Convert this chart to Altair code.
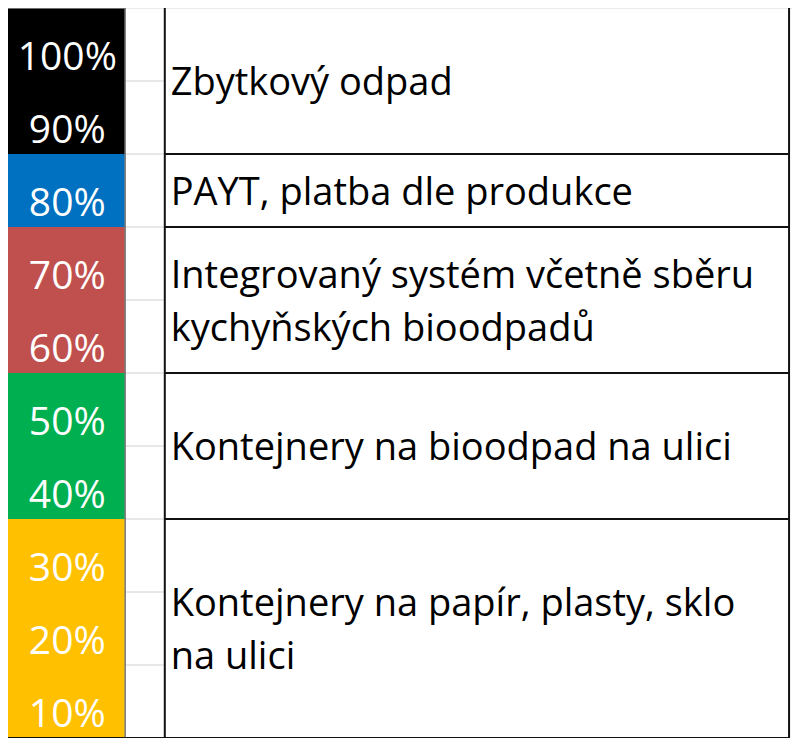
import altair as alt
import pandas as pd

# ---- data -------------------------------------------------------------
categories = [
    "Zbytkový odpad",
    "PAYT, platba dle produkce",
    "Integrovaný systém včetně sběru\nkychyňských bioodpadů",
    "Kontejnery na bioodpad na ulici",
    "Kontejnery na papír, plasty, sklo\nna ulici",
]
lower = [80, 70, 50, 30, 0]
upper = [100, 80, 70, 50, 30]
palette = ["#000000", "#0070C0", "#C0504D", "#00B050", "#FFC000"]

tick_values = [10, 20, 30, 40, 50, 60, 70, 80, 90, 100]
tick_labels = ["10%", "20%", "30%", "40%", "50%", "60%", "70%", "80%", "90%", "100%"]

# ---- layout -----------------------------------------------------------
W, H = 784, 730
SX = W / 800.0
FONT = "Open Sans"
LH = 53

seg = pd.DataFrame({"cat": categories, "lo": lower, "hi": upper})
seg["mid"] = (seg["lo"] + seg["hi"]) / 2
seg["multi"] = seg["cat"].str.contains("\n")
ticks = pd.DataFrame({"v": tick_values, "label": tick_labels})
ticks["band_lo"] = ticks["v"] - 10

yscale = alt.Scale(domain=[0, 100], nice=False, zero=False)
Y = lambda f: alt.Y(f, type="quantitative", scale=yscale, axis=None)

blocks = alt.Chart(seg).mark_rect().encode(
    x=alt.value(0), x2=alt.value(119 * SX),
    y=Y("lo"), y2="hi",
    color=alt.Color("cat:N", scale=alt.Scale(domain=categories, range=palette), legend=None),
)

grid = alt.Chart(ticks[ticks["v"] < 100]).mark_rule(color="#d0d0d0", strokeWidth=1).encode(
    y=Y("v"), x=alt.value(120 * SX), x2=alt.value(159 * SX)
)

borders = alt.Chart(seg[seg["lo"] > 0]).mark_rule(color="#111111", strokeWidth=2).encode(
    y=Y("lo"), x=alt.value(160 * SX), x2=alt.value(797 * SX)
)

bottom = alt.Chart(seg[seg["lo"] == 0]).mark_rule(color="#111111", strokeWidth=2).encode(
    y=Y("lo"), x=alt.value(0), x2=alt.value(797 * SX)
)

top = alt.Chart(seg[seg["hi"] == 100]).mark_rule(color="#d8d8d8", strokeWidth=1).encode(
    y=Y("hi"), x=alt.value(0), x2=alt.value(W)
)

vline_a = alt.Chart(seg.head(1)).mark_rule(color="#333333", strokeWidth=1).encode(
    x=alt.value(119.5 * SX), y=alt.value(0), y2=alt.value(H)
)
vline_b = alt.Chart(seg.head(1)).mark_rule(color="#111111", strokeWidth=2).encode(
    x=alt.value(160 * SX), y=alt.value(0), y2=alt.value(H)
)
vline_c = alt.Chart(seg.head(1)).mark_rule(color="#111111", strokeWidth=2).encode(
    x=alt.value(797 * SX), y=alt.value(0), y2=alt.value(H)
)

pct = alt.Chart(ticks).mark_text(
    color="white", font=FONT, fontSize=39, align="center", baseline="alphabetic", dy=-11
).encode(x=alt.value(60.5 * SX), y=Y("band_lo"), text="label:N")

names_single = alt.Chart(seg[~seg["multi"]]).mark_text(
    color="black", font=FONT, fontSize=38, align="left", baseline="middle", dy=3
).encode(x=alt.value(166 * SX), y=Y("mid"), text="cat:N")

names_multi = alt.Chart(seg[seg["multi"]]).mark_text(
    color="black", font=FONT, fontSize=38, align="left", baseline="middle",
    lineBreak="\n", lineHeight=LH, dy=3 - LH / 2
).encode(x=alt.value(166 * SX), y=Y("mid"), text="cat:N")

chart = alt.layer(
    blocks, grid, borders, bottom, top, vline_a, vline_b, vline_c, pct, names_single, names_multi
).properties(
    width=W, height=H, padding=0, autosize=alt.AutoSizeParams(type="none"), background="white"
).configure_view(stroke=None)

chart.save("out.html", embed_options={"renderer": "svg", "actions": False})
